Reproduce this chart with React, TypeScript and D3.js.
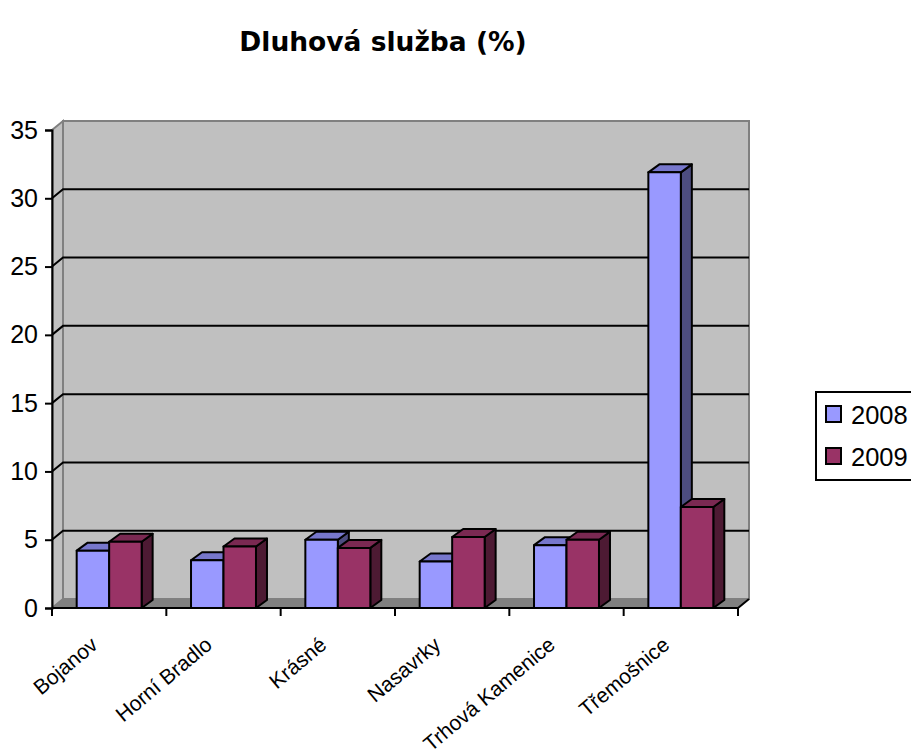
import React, { useEffect, useRef } from 'react'
import { select, scaleLinear, scaleBand, axisLeft } from 'd3'

const categories = ['Bojanov', 'Horní Bradlo', 'Krásné', 'Nasavrky', 'Trhová Kamenice', 'Třemošnice']
const seriesNames = ['2008', '2009']
const values2008 = [4.2, 3.5, 5.0, 3.4, 4.6, 31.9]
const values2009 = [4.85, 4.5, 4.4, 5.2, 5.0, 7.4]
const yTicks = [0, 5, 10, 15, 20, 25, 30, 35]

const frontColors = ['#9999FF', '#993366']
const topColors = ['#7777CC', '#7A2952']
const sideColors = ['#4D4D80', '#4D1A33']

function App() {
  const svgRef = useRef<SVGSVGElement>(null)

  const width = 911
  const height = 756
  // plot frame (front plane) and 3d depth offset
  const left = 52
  const right = 738
  const top = 130
  const bottom = 608
  const depthX = 11
  const depthY = 9
  const barDX = 11
  const barDY = 8

  function draw(svg) {
    const series = [values2008, values2009]

    const x = scaleBand().domain(categories).range([left, right]).padding(0)
    const xs = scaleBand().domain(seriesNames).range([0, x.bandwidth()])
      .paddingInner(0).paddingOuter(0.76)
    const y = scaleLinear().domain([0, 35]).range([bottom, top])

    const font = 'Liberation Sans, Arial, sans-serif'

    // title
    svg.append('text')
      .attr('x', 383)
      .attr('y', 51)
      .attr('text-anchor', 'middle')
      .style('font-family', 'DejaVu Sans, Verdana, sans-serif')
      .style('font-weight', 'bold')
      .style('font-size', '26.5px')
      .text('Dluhová služba (%)')

    const g = svg.append('g')

    // back wall + side wall
    g.append('rect')
      .attr('x', left + depthX).attr('y', top - depthY)
      .attr('width', right - left).attr('height', bottom - top)
      .attr('fill', '#C0C0C0').attr('stroke', '#808080').attr('stroke-width', 2)
    g.append('polygon')
      .attr('points', [[left, top], [left + depthX, top - depthY], [left + depthX, bottom - depthY], [left, bottom]].join(' '))
      .attr('fill', '#C0C0C0').attr('stroke', '#808080').attr('stroke-width', 2)

    // floor
    g.append('polygon')
      .attr('points', [[left, bottom], [left + depthX, bottom - depthY], [right + depthX, bottom - depthY], [right, bottom]].join(' '))
      .attr('fill', '#808080')

    // gridlines
    g.selectAll('path.grid')
      .data(yTicks.filter(t => t > 0 && t < 35))
      .join('path')
      .attr('class', 'grid')
      .attr('d', t => `M${left},${y(t)}L${left + depthX},${y(t) - depthY}L${right + depthX},${y(t) - depthY}`)
      .attr('fill', 'none').attr('stroke', '#000').attr('stroke-width', 2)

    // bars
    categories.forEach((c, i) => {
      seriesNames.forEach((s, j) => {
        const v = series[j][i]
        const x0 = x(c) + xs(s)
        const w = xs.bandwidth()
        const yt = y(v)
        const yb = y(0)
        const bar = g.append('g')
          .attr('stroke', '#000').attr('stroke-width', 2).attr('stroke-linejoin', 'round')
        bar.append('polygon')
          .attr('points', [[x0 + w, yt], [x0 + w + barDX, yt - barDY], [x0 + w + barDX, yb - barDY], [x0 + w, yb]].join(' '))
          .attr('fill', sideColors[j])
        bar.append('polygon')
          .attr('points', [[x0, yt], [x0 + barDX, yt - barDY], [x0 + w + barDX, yt - barDY], [x0 + w, yt]].join(' '))
          .attr('fill', topColors[j])
        bar.append('rect')
          .attr('x', x0).attr('y', yt).attr('width', w).attr('height', yb - yt)
          .attr('fill', frontColors[j])
      })
    })

    // x axis
    g.append('path')
      .attr('d', `M${left},${bottom}L${right},${bottom}L${right + depthX},${bottom - depthY}`)
      .attr('fill', 'none').attr('stroke', '#000').attr('stroke-width', 2)
    const bounds = categories.map(c => x(c)).concat([right])
    g.selectAll('line.xtick')
      .data(bounds)
      .join('line')
      .attr('class', 'xtick')
      .attr('x1', d => d).attr('x2', d => d)
      .attr('y1', bottom).attr('y2', bottom + 8)
      .attr('stroke', '#000').attr('stroke-width', 2)

    g.selectAll('text.xlabel')
      .data(categories)
      .join('text')
      .attr('class', 'xlabel')
      .attr('transform', d => `translate(${x(d) + x.bandwidth() / 2 - 10},${647}) rotate(-40)`)
      .attr('text-anchor', 'end')
      .style('font-family', font)
      .style('font-size', '21px')
      .text(d => d)

    // y axis
    const yAxis = g.append('g')
      .attr('transform', `translate(${left},0)`)
      .call(axisLeft(y).tickValues(yTicks).tickSize(7).tickPadding(7))
    yAxis.select('.domain').attr('stroke', '#000').attr('stroke-width', 2)
    yAxis.selectAll('.tick line').attr('stroke', '#000').attr('stroke-width', 2)
    yAxis.selectAll('.tick text')
      .attr('fill', '#000')
      .style('font-family', font)
      .style('font-size', '25px')

    // legend
    const lg = svg.append('g')
    lg.append('rect')
      .attr('x', 816).attr('y', 392).attr('width', 120).attr('height', 88)
      .attr('fill', '#fff').attr('stroke', '#000').attr('stroke-width', 2)
    seriesNames.forEach((s, j) => {
      const ly = 406 + j * 42
      lg.append('rect')
        .attr('x', 826).attr('y', ly).attr('width', 15).attr('height', 16)
        .attr('fill', frontColors[j]).attr('stroke', '#000').attr('stroke-width', 2)
      lg.append('text')
        .attr('x', 851).attr('y', ly + 18)
        .style('font-family', font)
        .style('font-size', '25.5px')
        .text(s)
    })
  }

  useEffect(() => {
    const svg = select(svgRef.current)
    svg.selectAll('*').remove()
    draw(svg)
    return () => {
      svg.selectAll('*').remove()
    }
  }, [])

  return (
    <svg
      ref={svgRef}
      width={width}
      height={height}
      style={{ position: 'absolute', left: 0, top: 0, background: '#fff' }}
    />
  )
}

export default App
